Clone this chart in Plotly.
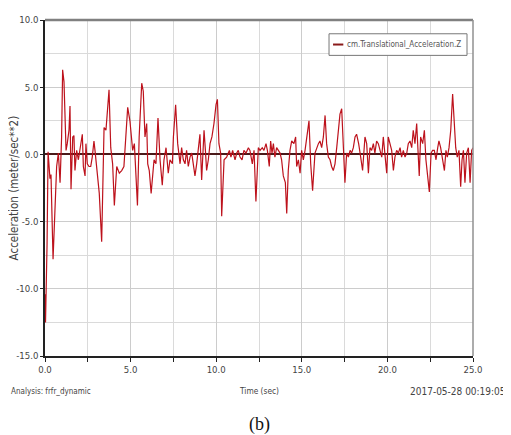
import plotly.graph_objects as go

time_sec = [0.0, 0.03, 0.12, 0.18, 0.29, 0.35, 0.47, 0.58, 0.68, 0.78, 0.88, 0.97, 1.03, 1.11, 1.17, 1.23, 1.30, 1.40, 1.46, 1.52,
            1.62, 1.69, 1.75, 1.85, 1.95, 2.04, 2.18, 2.24, 2.34, 2.39, 2.47, 2.57, 2.67, 2.76, 2.86, 2.92, 3.02, 3.17, 3.31, 3.45,
            3.56, 3.64, 3.74, 3.84, 3.95, 4.05, 4.19, 4.34, 4.48, 4.61, 4.73, 4.83, 4.96, 5.12, 5.22, 5.40, 5.50, 5.58, 5.65, 5.74,
            5.84, 5.94, 6.00, 6.09, 6.20, 6.37, 6.48, 6.60, 6.72, 6.85, 6.95, 7.07, 7.20, 7.30, 7.44, 7.50, 7.63, 7.75, 7.89, 7.98,
            8.08, 8.18, 8.27, 8.37, 8.47, 8.57, 8.66, 8.76, 8.86, 8.98, 9.05, 9.15, 9.29, 9.37, 9.44, 9.54, 9.64, 9.75, 9.87, 9.99,
            10.07, 10.16, 10.26, 10.32, 10.46, 10.61, 10.77, 10.86, 10.96, 11.10, 11.20, 11.29, 11.39, 11.51, 11.62, 11.74, 11.88, 11.97, 12.11, 12.21,
            12.32, 12.46, 12.56, 12.69, 12.79, 12.91, 12.99, 13.10, 13.18, 13.26, 13.34, 13.43, 13.53, 13.63, 13.73, 13.82, 13.92, 14.04, 14.12, 14.21,
            14.31, 14.41, 14.54, 14.64, 14.70, 14.80, 14.90, 14.99, 15.09, 15.19, 15.28, 15.42, 15.52, 15.63, 15.77, 15.87, 15.97, 16.06, 16.16, 16.26,
            16.36, 16.45, 16.55, 16.65, 16.74, 16.84, 16.94, 17.04, 17.13, 17.23, 17.33, 17.43, 17.52, 17.62, 17.72, 17.82, 17.91, 18.01, 18.11, 18.20,
            18.32, 18.44, 18.55, 18.69, 18.79, 18.89, 18.98, 19.08, 19.18, 19.27, 19.37, 19.47, 19.57, 19.67, 19.76, 19.86, 19.96, 20.05, 20.15, 20.25,
            20.35, 20.44, 20.54, 20.64, 20.74, 20.83, 20.93, 21.03, 21.13, 21.22, 21.32, 21.42, 21.51, 21.61, 21.71, 21.79, 21.86, 21.94, 22.06, 22.16,
            22.25, 22.35, 22.45, 22.55, 22.64, 22.74, 22.84, 22.94, 23.01, 23.11, 23.21, 23.33, 23.42, 23.50, 23.60, 23.70, 23.81, 23.89, 23.99, 24.08,
            24.18, 24.28, 24.36, 24.44, 24.53, 24.63, 24.73, 24.83, 24.92, 25.0]

accel_z = [-10.4, -12.5, -6.7, 0.2, -1.8, -1.5, -7.8, -4.6, -0.9, 0.1, -2.1, 1.3, 6.3, 5.4, 2.5, 0.3, 0.8, 1.8, 3.6, -2.6,
           1.3, 1.4, -1.2, 0.3, -0.4, 0.3, 1.5, -0.9, -1.6, 0.8, -0.7, -0.9, -0.9, -0.2, 1.0, 0.3, -1.2, -2.9, -6.5, 2.0,
           1.8, 3.0, 4.8, 0.5, -0.7, -3.8, -0.9, -1.4, -1.2, -0.9, 1.8, 3.5, 2.5, 0.3, 0.8, -3.8, 1.3, 3.7, 5.3, 4.7,
           1.3, 2.3, -0.7, -1.2, -2.9, -0.4, -0.7, 2.7, -0.4, -2.3, -0.4, 0.5, -1.4, -0.4, -0.7, 1.3, 3.7, 0.8, -0.7, 0.5,
           -0.4, -0.7, 0.3, -0.9, -0.2, 0.1, -0.9, -1.6, -0.7, 0.5, 1.5, -1.9, 1.8, 0.3, -1.2, -0.4, 0.8, 1.3, 2.3, 3.7,
           4.1, 0.8, 0.1, -4.6, -0.4, -0.2, 0.3, -0.2, 0.3, -0.4, 0.1, 0.3, -0.2, -0.4, 0.3, 0.1, 0.5, 0.3, -0.7, 0.3,
           -3.5, 0.5, 0.3, 0.5, 0.3, 0.8, 0.3, -0.9, 1.0, 0.1, 0.8, -0.2, 0.5, 0.3, 0.1, -0.4, -1.6, -2.1, -4.4, -1.2,
           0.3, 1.0, 0.8, 1.3, -0.9, -0.4, -1.4, 0.3, -0.4, 0.3, 1.3, 2.5, -0.7, -2.7, 0.1, 0.5, 0.8, 1.0, 0.5, 1.3,
           2.9, 0.8, -0.2, -0.4, -0.9, -1.2, -0.7, 0.5, 1.8, 3.0, 3.4, 0.8, -2.1, 0.1, -0.2, 0.3, 0.1, 0.5, 1.3, 1.5,
           0.8, -0.2, -1.2, 1.3, 0.8, -1.4, 0.5, 0.3, 0.8, 0.1, 1.0, 0.8, 0.3, -0.2, 1.3, -0.2, -1.4, 1.3, 0.8, 0.3,
           -1.2, -0.2, 0.3, 0.1, 0.5, -0.2, 0.3, -0.2, 0.1, 0.8, 1.0, 0.5, 1.8, 0.8, 2.3, 0.3, -1.6, 1.3, 0.8, 1.8,
           -0.4, -1.6, -2.8, 0.1, 0.3, 0.3, -0.4, 0.5, 1.0, 0.5, -0.4, -1.2, 0.3, -0.2, 0.5, 1.8, 4.5, 2.5, 0.5, -0.2,
           0.3, -2.4, -0.4, 0.3, -2.1, 0.1, 0.5, -2.1, 0.3, 0.5]

series_name = "cm.Translational_Acceleration.Z"
x_tick_vals = [0, 5, 10, 15, 20, 25]
x_tick_text = ["0.0", "5.0", "10.0", "15.0", "20.0", "25.0"]
y_tick_vals = [-15, -10, -5, 0, 5, 10]
y_tick_text = ["-15.0", "-10.0", "-5.0", "0.0", "5.0", "10.0"]

NARROW = "DejaVu Sans Condensed, Liberation Sans Narrow, Arial Narrow, sans-serif"
LINE_COLOR = "#bd121c"

fig = go.Figure()
fig.add_trace(go.Scatter(x=time_sec, y=accel_z, mode="lines", name=series_name,
                         line=dict(color=LINE_COLOR, width=1.2), showlegend=False))

fig.update_layout(
    width=503, height=427,
    margin=dict(l=37, r=38, t=6, b=79),
    paper_bgcolor="white", plot_bgcolor="white",
    font=dict(family=NARROW, size=9, color="#444"),
    showlegend=False,
)
fig.update_xaxes(range=[0, 25], tickvals=x_tick_vals, ticktext=x_tick_text,
                 showgrid=True, gridcolor="#cccccc", gridwidth=1,
                 showline=True, linecolor="#222", linewidth=1.5,
                 ticks="outside", ticklen=4, tickcolor="#222",
                 minor=dict(dtick=2.5, tick0=0, showgrid=True, gridcolor="#dadada",
                            ticks="outside", ticklen=4, tickcolor="#222"),
                 zeroline=False, tickfont=dict(size=9.5, color="#444"))
fig.update_yaxes(range=[-15, 10], tickvals=y_tick_vals, ticktext=y_tick_text,
                 showgrid=True, gridcolor="#cccccc", gridwidth=1,
                 showline=True, linecolor="#222", linewidth=1.5,
                 ticks="outside", ticklen=3, tickcolor="#222",
                 minor=dict(dtick=2.5, tick0=0, showgrid=True, gridcolor="#dadada"),
                 zeroline=True, zerolinecolor="#4a1a1a", zerolinewidth=1.5,
                 tickfont=dict(size=9.5, color="#444"))

# top / right frame
fig.add_shape(type="line", xref="paper", yref="paper", x0=0, x1=1, y0=1, y1=1,
              line=dict(color="#808080", width=2.5))
fig.add_shape(type="line", xref="paper", yref="paper", x0=1, x1=1, y0=0, y1=1,
              line=dict(color="#909090", width=1.5))

# legend box (drawn manually to match the short sample line)
fig.add_shape(type="rect", xref="paper", yref="paper", x0=0.6636, x1=0.986, y0=0.8947, y1=0.959,
              line=dict(color="#777", width=1), fillcolor="white", layer="above")
fig.add_shape(type="line", xref="paper", yref="paper", x0=0.673, x1=0.697, y0=0.927, y1=0.927,
              line=dict(color="#8a1a1a", width=2), layer="above")
fig.add_annotation(text=series_name, xref="paper", yref="paper",
                   x=0.702, y=0.927, xanchor="left", yanchor="middle", showarrow=False,
                   font=dict(family=NARROW, size=8, color="#555"))

fig.add_annotation(text="Acceleration (meter/sec**2)", xref="paper", yref="paper",
                   x=-0.0715, y=0.5, xanchor="center", yanchor="middle", textangle=-90, showarrow=False,
                   font=dict(family=NARROW, size=11.5, color="#444"))
fig.add_annotation(text="Analysis: frfr_dynamic", xref="paper", yref="paper",
                   x=-0.0835, y=-0.105, xanchor="left", yanchor="middle", showarrow=False,
                   font=dict(family=NARROW, size=8, color="#444"))
fig.add_annotation(text="Time (sec)", xref="paper", yref="paper",
                   x=0.5, y=-0.105, xanchor="center", yanchor="middle", showarrow=False,
                   font=dict(family=NARROW, size=8.3, color="#444"))
fig.add_annotation(text="2017-05-28 00:19:05", xref="paper", yref="paper",
                   x=1.082, y=-0.105, xanchor="right", yanchor="middle", showarrow=False,
                   font=dict(family=NARROW, size=10, color="#444"))
fig.add_annotation(text="(b)", xref="paper", yref="paper",
                   x=0.5, y=-0.205, xanchor="center", yanchor="middle", showarrow=False,
                   font=dict(family="Liberation Serif, Times New Roman, serif", size=18, color="#111"))

fig.write_html("out.html")
